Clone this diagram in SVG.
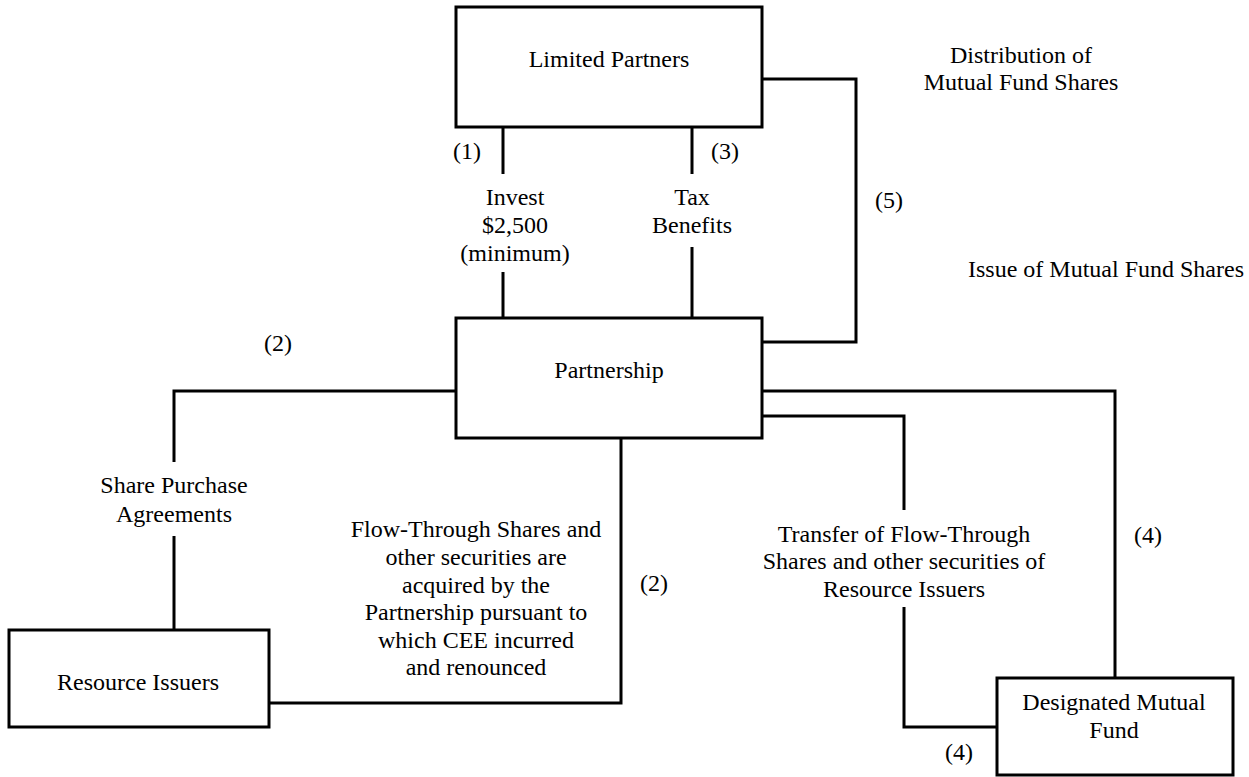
<svg xmlns="http://www.w3.org/2000/svg" width="1249" height="777" viewBox="0 0 1249 777">
<style>
.box{fill:#fff;stroke:#000;stroke-width:3}
.ln{fill:none;stroke:#000;stroke-width:3}
</style>
<rect width="1249" height="777" fill="#fff"/>
<g id="connectors">
<path class="ln" d="M503,127 V174 M503,272 V318"/>
<path class="ln" d="M692,127 V174 M692,247 V318"/>
<path class="ln" d="M762,79 H856 V342 H762"/>
<path class="ln" d="M456,391 H174 V462 M174,536 V630"/>
<path class="ln" d="M621,438 V703 H269"/>
<path class="ln" d="M762,391 H1115 V678"/>
<path class="ln" d="M762,416 H904 V510 M904,607 V727 H997"/>
</g>
<g font-family="Liberation Serif, Times New Roman, DejaVu Serif, serif" font-size="24" fill="#000" text-anchor="middle">
<g id="labels">
<text x="467" y="159">(1)</text>
<text x="725" y="159">(3)</text>
<text x="515" y="205">Invest</text>
<text x="515" y="233">$2,500</text>
<text x="515" y="261">(minimum)</text>
<text x="692" y="205">Tax</text>
<text x="692" y="233">Benefits</text>
<text x="889" y="208">(5)</text>
<text x="1021" y="63">Distribution of</text>
<text x="1021" y="90">Mutual Fund Shares</text>
<text x="1106" y="277">Issue of Mutual Fund Shares</text>
<text x="278" y="351">(2)</text>
<text x="174" y="493">Share Purchase</text>
<text x="174" y="522">Agreements</text>
<text x="476" y="537">Flow-Through Shares and</text>
<text x="476" y="565">other securities are</text>
<text x="476" y="593">acquired by the</text>
<text x="476" y="620">Partnership pursuant to</text>
<text x="476" y="648">which CEE incurred</text>
<text x="476" y="675">and renounced</text>
<text x="654" y="591">(2)</text>
<text x="904" y="542">Transfer of Flow-Through</text>
<text x="904" y="569">Shares and other securities of</text>
<text x="904" y="597">Resource Issuers</text>
<text x="1148" y="543">(4)</text>
<text x="959" y="760">(4)</text>
</g>
<g id="limited-partners">
<rect class="box" x="456" y="7" width="306" height="120"/>
<text x="609" y="67">Limited Partners</text>
</g>
<g id="partnership">
<rect class="box" x="456" y="318" width="306" height="120"/>
<text x="609" y="378">Partnership</text>
</g>
<g id="resource-issuers">
<rect class="box" x="9" y="630" width="260" height="97"/>
<text x="138" y="690">Resource Issuers</text>
</g>
<g id="designated-mutual-fund">
<rect class="box" x="997" y="678" width="236" height="97"/>
<text x="1114" y="710">Designated Mutual</text>
<text x="1114" y="738">Fund</text>
</g>
</g>
</svg>
